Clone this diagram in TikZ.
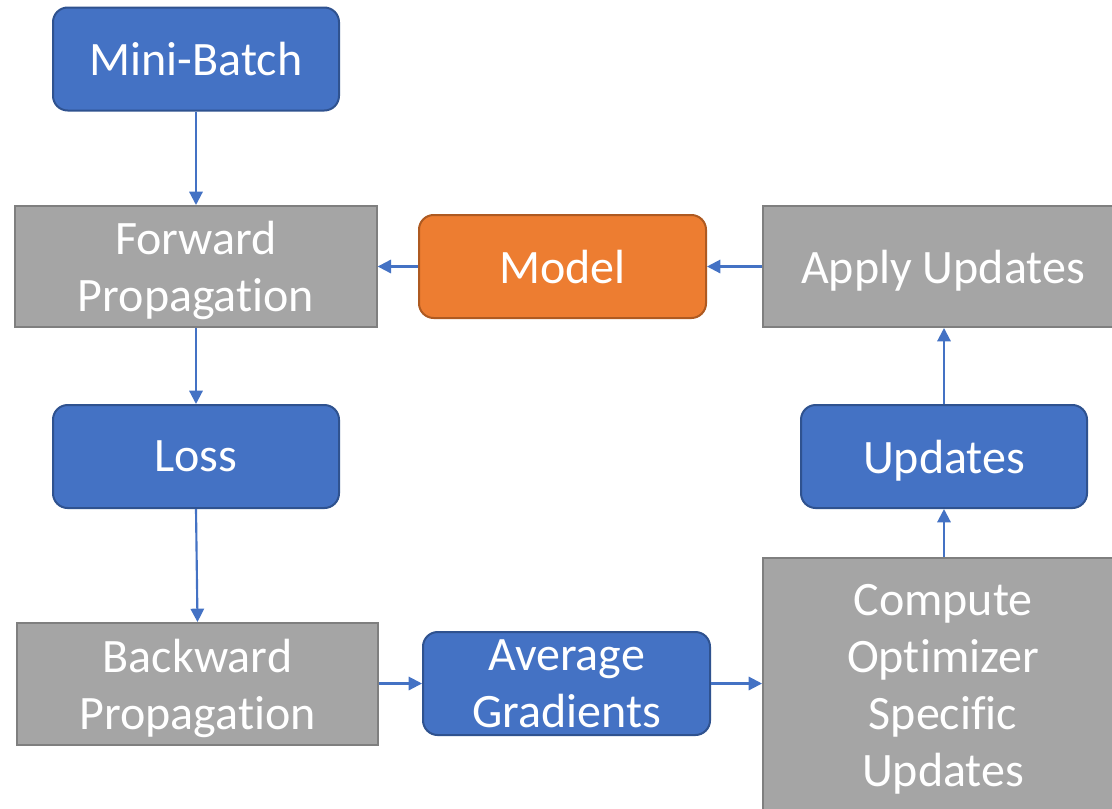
\documentclass[tikz,border=0pt]{standalone}
\usepackage{fontspec}
\setmainfont{Carlito}[Ligatures=NoCommon,RawFeature=-calt]
\usetikzlibrary{arrows.meta}
\definecolor{cblue}{HTML}{4472C4}
\definecolor{cblueb}{HTML}{2F528F}
\definecolor{cgray}{HTML}{A5A5A5}
\definecolor{cgrayb}{HTML}{7F7F7F}
\definecolor{corange}{HTML}{ED7D31}
\definecolor{coranb}{HTML}{AE5A21}
\begin{document}
\begin{tikzpicture}[x=0.75pt,y=-0.75pt,
  base/.style={inner sep=0pt,align=center,text=white,line width=1.5pt,text depth=0pt,
    font={\fontsize{36}{42.75}\selectfont}},
  bluebox/.style={base,fill=cblue,draw=cblueb,rounded corners=11pt,
    minimum width=214.5pt,minimum height=77.25pt},
  graybox/.style={base,fill=cgray,draw=cgrayb,minimum width=271pt,minimum height=90.75pt},
  orangebox/.style={base,fill=corange,draw=coranb,rounded corners=11pt,
    minimum width=215.25pt,minimum height=77.25pt},
  conn/.style={draw=cblue,line width=1.6pt,-{Triangle[length=10pt,width=10pt]}}]
\clip (0,0) rectangle (1112,808);
\fill[white] (0,0) rectangle (1112,808);
\node[bluebox] (mb) at (196,59) {Mini-Batch};
\node[graybox] (fwd) at (196,266.5) {Forward\\Propagation};
\node[orangebox] (model) at (562.5,266.5) {Model};
\node[graybox,minimum width=270pt] (apply) at (943,266.5) {Apply Updates};
\node[bluebox] (loss) at (196,456.5) {Loss};
\node[bluebox] (upd) at (944,456.5) {Updates};
\node[graybox,minimum height=91.5pt] (bwd) at (197.5,684) {Backward\\Propagation};
\node[bluebox,minimum width=215.25pt] (avg) at (566.5,683.5) {Average\\Gradients};
\node[graybox,minimum width=270pt,minimum height=190.5pt] (comp) at (943,685) {Compute\\Optimizer\\Specific\\Updates};
\draw[conn] (mb.south) -- (fwd.north);
\draw[conn] (model.west) -- (fwd.east |- model.west);
\draw[conn] (apply.west |- model.east) -- (model.east);
\draw[conn] (fwd.south) -- (loss.north);
\draw[conn] (loss.south) -- (bwd.north);
\draw[conn] (bwd.east |- avg.west) -- (avg.west);
\draw[conn] (avg.east) -- (comp.west |- avg.east);
\draw[conn] (comp.north -| upd.south) -- (upd.south);
\draw[conn] (upd.north) -- (apply.south -| upd.north);
\end{tikzpicture}
\end{document}
